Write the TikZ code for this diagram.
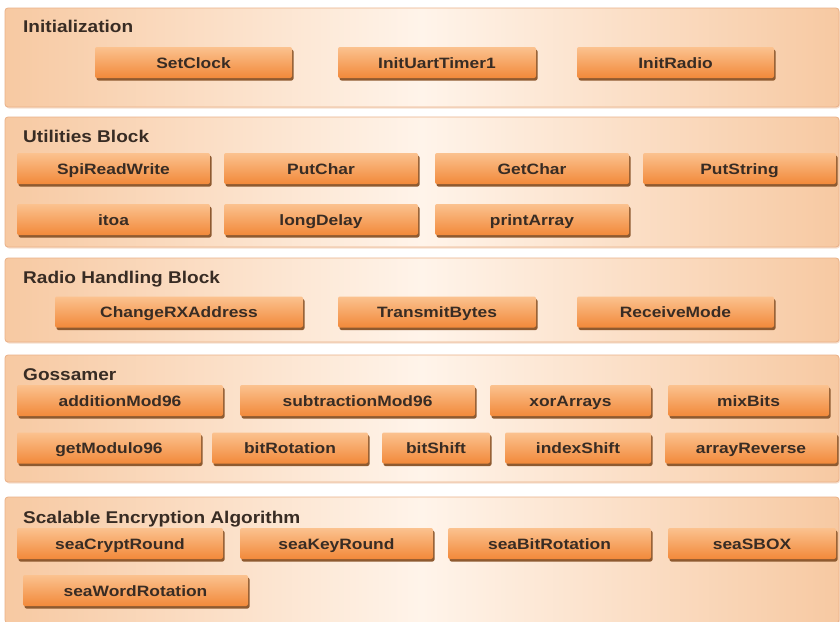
\documentclass[tikz,border=0pt]{standalone}
\usepackage{fontspec}
\setmainfont{Liberation Sans}
\newfontfamily\labfont[FakeStretch=1.16]{Liberation Sans}
\newfontfamily\titfont[FakeStretch=1.12]{Liberation Sans}
\usetikzlibrary{shadows}
\definecolor{panelEdge}{HTML}{F7C9A2}
\definecolor{panelMid}{HTML}{FFF4EA}
\definecolor{panelLine}{HTML}{E9B188}
\definecolor{boxTop}{HTML}{FBC28F}
\definecolor{boxBot}{HTML}{F2893A}
\definecolor{boxShadow}{HTML}{8E5A30}
\definecolor{txt}{HTML}{382C24}
\tikzset{
 panel/.style={draw=panelLine, line width=0.8pt, rounded corners=3pt,
   left color=panelEdge, right color=panelEdge, middle color=panelMid,
   inner sep=0pt, outer sep=0pt,
   drop shadow={shadow xshift=1pt, shadow yshift=-1.5pt, opacity=0.4, fill=panelLine}},
 ptitle/.style={anchor=base west, inner sep=0pt, text=txt,
   font=\titfont\fontsize{17}{17}\selectfont\bfseries},
 fn/.style={rounded corners=2pt, top color=boxTop, bottom color=boxBot,
   minimum height=31pt, inner sep=0pt, outer sep=0pt, text=txt,
   text height=11pt, text depth=0pt,
   font=\labfont\fontsize{15}{15}\selectfont\bfseries,
   drop shadow={shadow xshift=1.5pt, shadow yshift=-2.5pt, opacity=1, fill=boxShadow}},
}
\begin{document}
\begin{tikzpicture}[x=1pt,y=-1pt]
\useasboundingbox (0,0) rectangle (840,621);
% panels
\node[panel, minimum width=834pt, minimum height=99pt]  (pInit) at (422,57.5) {};
\node[panel, minimum width=834pt, minimum height=130pt] (pUtil) at (422,182) {};
\node[panel, minimum width=834pt, minimum height=84pt]  (pRadio) at (422,300) {};
\node[panel, minimum width=834pt, minimum height=127pt] (pGoss) at (422,418.5) {};
\node[panel, minimum width=834pt, minimum height=126pt] (pSea) at (422,560) {};
% titles
\node[ptitle] (tInit) at (23,32) {Initialization};
\node[ptitle] (tUtil) at (23,142) {Utilities Block};
\node[ptitle] (tRadio) at (23,283) {Radio Handling Block};
\node[ptitle] (tGoss) at (23,380) {Gossamer};
\node[ptitle] (tSea) at (23,523) {Scalable Encryption Algorithm};
% Initialization
\node[fn, minimum width=197pt] (setclock) at (193.5,62.5) {SetClock};
\node[fn, minimum width=198pt] (inituart) at (437,62.5) {InitUartTimer1};
\node[fn, minimum width=197pt] (initradio) at (675.5,62.5) {InitRadio};
% Utilities
\node[fn, minimum width=193pt] (spi) at (113.5,168.5) {SpiReadWrite};
\node[fn, minimum width=194pt] (putchar) at (321,168.5) {PutChar};
\node[fn, minimum width=194pt] (getchar) at (532,168.5) {GetChar};
\node[fn, minimum width=193pt] (putstring) at (739.5,168.5) {PutString};
\node[fn, minimum width=193pt] (itoa) at (113.5,219.5) {itoa};
\node[fn, minimum width=194pt] (longdelay) at (321,219.5) {longDelay};
\node[fn, minimum width=194pt] (printarray) at (532,219.5) {printArray};
% Radio
\node[fn, minimum width=248pt] (changerx) at (179,312) {ChangeRXAddress};
\node[fn, minimum width=198pt] (transmit) at (437,312) {TransmitBytes};
\node[fn, minimum width=197pt] (receive) at (675.5,312) {ReceiveMode};
% Gossamer
\node[fn, minimum width=206pt] (addmod) at (120,400.5) {additionMod96};
\node[fn, minimum width=235pt] (submod) at (357.5,400.5) {subtractionMod96};
\node[fn, minimum width=161pt] (xorarr) at (570.5,400.5) {xorArrays};
\node[fn, minimum width=161pt] (mixbits) at (748.5,400.5) {mixBits};
\node[fn, minimum width=184pt] (getmod) at (109,448) {getModulo96};
\node[fn, minimum width=156pt] (bitrot) at (290,448) {bitRotation};
\node[fn, minimum width=108pt] (bitshift) at (436,448) {bitShift};
\node[fn, minimum width=146pt] (idxshift) at (578,448) {indexShift};
\node[fn, minimum width=172pt] (arrrev) at (751,448) {arrayReverse};
% SEA
\node[fn, minimum width=206pt] (seacrypt) at (120,543.5) {seaCryptRound};
\node[fn, minimum width=193pt] (seakey) at (336.5,543.5) {seaKeyRound};
\node[fn, minimum width=203pt] (seabit) at (549.5,543.5) {seaBitRotation};
\node[fn, minimum width=168pt] (seasbox) at (752,543.5) {seaSBOX};
\node[fn, minimum width=225pt] (seaword) at (135.5,590.5) {seaWordRotation};
\end{tikzpicture}
\end{document}
